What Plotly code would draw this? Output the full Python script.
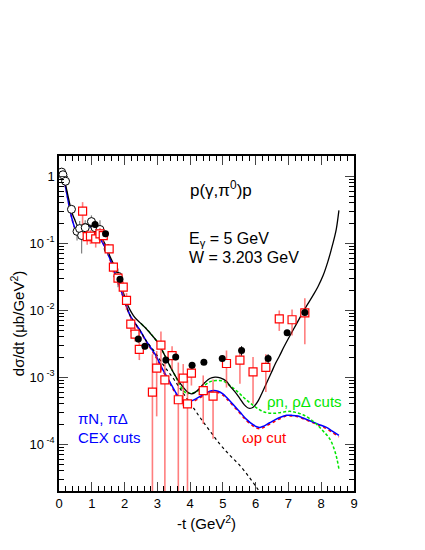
import plotly.graph_objects as go

FONT = 'Liberation Sans, Arial, sans-serif'

# model curves, -t in GeV^2 and log10 of dsigma/dt
black_t = [0.05, 0.08, 0.12, 0.18, 0.26, 0.34, 0.42, 0.49, 0.55, 0.62, 0.70, 0.79, 0.87, 0.94,
           1.05, 1.15, 1.25, 1.35, 1.45, 1.55, 1.66, 1.76, 1.86, 1.96, 2.06, 2.17, 2.27, 2.37,
           2.50, 2.67, 2.88, 2.98, 3.18, 3.35, 3.49, 3.65, 3.79, 3.92, 4.04, 4.17, 4.30, 4.45,
           4.60, 4.76, 4.92, 5.11, 5.21, 5.37, 5.52, 5.65, 5.77, 5.88, 5.98, 6.08, 6.18, 6.33,
           6.48, 6.60, 6.73, 6.86, 6.99, 7.25, 7.50, 7.75, 7.90, 8.06, 8.20, 8.31, 8.40, 8.46, 8.54]
black_log = [0.05, 0.03, 0.0, -0.09, -0.26, -0.44, -0.58, -0.66, -0.73, -0.75, -0.73, -0.71, -0.72, -0.74,
             -0.79, -0.84, -0.89, -0.96, -1.06, -1.19, -1.31, -1.43, -1.58, -1.73, -1.88, -2.00, -2.08, -2.14,
             -2.20, -2.28, -2.40, -2.46, -2.63, -2.80, -2.93, -3.06, -3.15, -3.22, -3.25, -3.22, -3.16, -3.08,
             -3.02, -3.00, -3.01, -3.06, -3.13, -3.22, -3.32, -3.41, -3.46, -3.46, -3.42, -3.35, -3.25, -3.09,
             -2.93, -2.80, -2.68, -2.55, -2.43, -2.20, -1.98, -1.78, -1.65, -1.48, -1.28, -1.09, -0.92, -0.79, -0.51]

blue_t = [0.05, 0.08, 0.12, 0.18, 0.26, 0.34, 0.42, 0.49, 0.55, 0.62, 0.70, 0.79, 0.87, 0.94,
          1.05, 1.15, 1.25, 1.35, 1.45, 1.55, 1.66, 1.76, 1.86, 1.96, 2.06, 2.16, 2.30, 2.47,
          2.65, 2.88, 2.98, 3.18, 3.38, 3.55, 3.69, 3.80, 3.89, 4.00, 4.19, 4.40, 4.60, 4.72,
          4.85, 5.00, 5.11, 5.30, 5.52, 5.72, 5.92, 6.03, 6.13, 6.25, 6.43, 6.70, 6.94, 7.10,
          7.29, 7.45, 7.65, 7.90, 8.16, 8.35, 8.54]
blue_log = [0.04, 0.02, -0.02, -0.12, -0.32, -0.52, -0.68, -0.78, -0.81, -0.80, -0.76, -0.73, -0.73, -0.75,
            -0.80, -0.86, -0.93, -1.01, -1.11, -1.23, -1.38, -1.52, -1.66, -1.80, -1.94, -2.07, -2.18, -2.30,
            -2.45, -2.62, -2.70, -2.90, -3.07, -3.22, -3.32, -3.36, -3.37, -3.36, -3.32, -3.26, -3.21, -3.20,
            -3.21, -3.25, -3.30, -3.40, -3.52, -3.63, -3.71, -3.74, -3.75, -3.73, -3.68, -3.61, -3.57, -3.57,
            -3.58, -3.61, -3.65, -3.70, -3.75, -3.81, -3.87]
red_log = [0.04, 0.02, -0.02, -0.12, -0.32, -0.52, -0.68, -0.78, -0.81, -0.80, -0.76, -0.73, -0.73, -0.75,
           -0.80, -0.86, -0.93, -1.01, -1.11, -1.24, -1.39, -1.53, -1.67, -1.81, -1.95, -2.08, -2.19, -2.31,
           -2.46, -2.64, -2.72, -2.92, -3.09, -3.24, -3.34, -3.38, -3.39, -3.38, -3.34, -3.28, -3.23, -3.22,
           -3.23, -3.27, -3.32, -3.42, -3.54, -3.65, -3.73, -3.76, -3.77, -3.75, -3.70, -3.63, -3.58, -3.58,
           -3.59, -3.62, -3.66, -3.71, -3.77, -3.83, -3.89]

green_t = [2.50, 2.67, 2.88, 2.98, 3.18, 3.35, 3.49, 3.65, 3.79, 3.90, 4.00, 4.19, 4.40, 4.60,
           4.80, 5.01, 5.20, 5.41, 5.65, 5.92, 6.13, 6.33, 6.53, 6.73, 7.04, 7.25, 7.44, 7.65,
           7.85, 8.05, 8.26, 8.40, 8.48, 8.54]
green_log = [-2.20, -2.28, -2.40, -2.46, -2.63, -2.80, -2.93, -3.08, -3.20, -3.24, -3.24, -3.22, -3.14, -3.07,
             -3.05, -3.06, -3.12, -3.20, -3.31, -3.42, -3.49, -3.53, -3.54, -3.53, -3.51, -3.53, -3.56, -3.62,
             -3.70, -3.80, -3.92, -4.08, -4.22, -4.37]

regge_t = [1.96, 2.16, 2.47, 2.65, 2.93, 3.20, 3.49, 3.79, 4.05, 4.30, 4.60, 4.91, 5.20, 5.52, 5.80, 6.02, 6.12]
regge_log = [-1.80, -2.07, -2.30, -2.45, -2.63, -2.83, -3.02, -3.24, -3.42, -3.60, -3.80, -4.00, -4.16, -4.32, -4.49, -4.64, -4.71]

# data points
circ_t = [0.08, 0.12, 0.20, 0.38, 0.55, 0.63, 0.69, 0.80, 0.99, 1.10, 1.25, 1.50, 1.80]
circ_v = [1.15, 1.05, 0.84, 0.32, 0.15, 0.165, 0.13, 0.17, 0.21, 0.17, 0.16, 0.082, 0.032]
circ_e = [0.08, 0.08, 0.08, 0.05, 0.04, 0.05, 0.06, 0.05, 0.05, 0.05, 0.06, 0.015, 0.010]

dot_t = [1.10, 1.42, 1.86, 2.42, 2.62, 3.26, 3.56, 4.06, 4.42, 4.98, 5.57, 6.38, 6.96, 7.50]
dot_v = [0.19, 0.138, 0.029, 0.0037, 0.0029, 0.0018, 0.0020, 0.0015, 0.00167, 0.0019, 0.0025, 0.0019, 0.0046, 0.0092]
dot_e = [0.02, 0.015, 0.003, 0.0004, 0.0003, 0.0002, 0.0002, 0.00015, 0.00015, 0.0002, 0.0004, 0.0003, 0.0004, 0.0008]

sq_t = [0.72, 0.86, 0.96, 1.12, 1.25, 1.35, 1.53, 1.66, 1.80, 1.96, 2.06, 2.19, 2.32, 2.45,
        2.85, 2.98, 3.11, 3.23, 3.45, 3.64, 3.79, 3.92, 4.04, 4.40, 4.70, 5.11, 5.52, 5.92,
        6.31, 6.72, 7.11, 7.50]
sq_v = [0.30, 0.125, 0.127, 0.116, 0.138, 0.13, 0.082, 0.044, 0.030, 0.022, 0.014, 0.0062, 0.0044, 0.0026,
        0.0006, 0.00136, 0.0030, 0.00091, 0.0021, 0.00046, 0.00097, 0.0004, 0.00115, 0.00063, 0.00052, 0.0016, 0.0018, 0.0012,
        0.0014, 0.0074, 0.0072, 0.0091]
sq_e = [0.11, 0.03, 0.03, 0.03, 0.03, 0.03, 0.012, 0.008, 0.006, 0.005, 0.004, 0.0015, 0.001, 0.0008,
        0.0016, 0.0011, 0.0018, 0.001, 0.0008, 0.0012, 0.0006, 0.0005, 0.0004, 0.00043, 0.0004, 0.0009, 0.001, 0.0008,
        0.0008, 0.0025, 0.003, 0.006]

x_ticks = [0, 1, 2, 3, 4, 5, 6, 7, 8, 9]
y_ticks = [1e-4, 1e-3, 1e-2, 1e-1, 1]
y_labels = ['10<sup> -4</sup>', '10<sup> -3</sup>', '10<sup> -2</sup>', '10<sup> -1</sup>', '1']

fig = go.Figure()


def curve(x, ylog, color, dash, width=1.5):
    fig.add_trace(go.Scatter(
        x=x, y=[10 ** v for v in ylog], mode='lines',
        line=dict(color=color, width=width, dash=dash, shape='spline'),
        hoverinfo='skip', showlegend=False))


curve(blue_t, red_log, 'red', 'dot', 1.5)
curve(blue_t, blue_log, 'blue', 'solid', 1.5)
curve(green_t, green_log, 'rgb(0,230,0)', '3px,2px', 1.5)
curve(regge_t, regge_log, 'black', 'dot', 1.2)
curve(black_t, black_log, 'black', 'solid', 1.3)

fig.add_trace(go.Scatter(
    x=circ_t, y=circ_v, mode='markers',
    marker=dict(symbol='circle', size=8, color='white', line=dict(color='black', width=1)),
    error_y=dict(type='data', array=circ_e, color='gray', thickness=1.2, width=0),
    showlegend=False))
fig.add_trace(go.Scatter(
    x=sq_t, y=sq_v, mode='markers',
    marker=dict(symbol='square', size=8, color='white', line=dict(color='red', width=1.2)),
    error_y=dict(type='data', array=sq_e, color='rgba(255,40,40,0.6)', thickness=1.6, width=0),
    showlegend=False))
fig.add_trace(go.Scatter(
    x=dot_t, y=dot_v, mode='markers',
    marker=dict(symbol='circle', size=7, color='black'),
    error_y=dict(type='data', array=dot_e, color='black', thickness=1, width=0),
    showlegend=False))

# labels inside the frame
notes = [
    (3.93, -0.19, 'p(γ,π<sup>0</sup>)p', 'black', 17),
    (3.91, -0.95, 'E<sub>γ</sub> = 5 GeV', 'black', 16),
    (3.91, -1.21, 'W = 3.203 GeV', 'black', 16),
    (6.28, -3.37, 'ρn, ρΔ cuts', 'rgb(0,230,0)', 15),
    (5.52, -3.90, 'ωp cut', 'red', 15),
    (0.52, -3.62, 'πN, πΔ', 'blue', 15),
    (0.52, -3.90, 'CEX cuts', 'blue', 15),
]
for x, y, txt, col, sz in notes:
    fig.add_annotation(x=x, y=y, text=txt, showarrow=False, xanchor='left', yanchor='middle',
                       font=dict(family=FONT, size=sz, color=col))

# page body adds 8px, so the figure is a bit smaller than the window
fig.update_layout(
    width=409, height=534,
    margin=dict(l=51, r=63, t=148, b=51),
    plot_bgcolor='white', paper_bgcolor='white',
    font=dict(family=FONT, size=13, color='black'),
    showlegend=False,
    xaxis=dict(
        range=[0, 9], tickvals=x_ticks, ticks='inside', ticklen=9, tickwidth=1,
        minor=dict(ticks='inside', ticklen=5, dtick=0.2, tickwidth=1, tickcolor='black'),
        showline=True, linecolor='black', linewidth=1.5, mirror='allticks',
        showgrid=False, zeroline=False, tickfont=dict(size=13), automargin=False,
        title=dict(text='-t (GeV<sup>2</sup>)', font=dict(size=15), standoff=8),
    ),
    yaxis=dict(
        type='log', range=[-4.699, 0.301], tickvals=y_ticks, ticktext=y_labels,
        ticks='inside', ticklen=9, tickwidth=1,
        minor=dict(ticks='inside', ticklen=5, tickwidth=1, tickcolor='black',
                   tickvals=[m * 10 ** e for e in range(-5, 1) for m in range(2, 10)]),
        showline=True, linecolor='black', linewidth=1.5, mirror='allticks',
        showgrid=False, zeroline=False, tickfont=dict(size=13), automargin=False,
        title=dict(text='dσ/dt (μb/GeV<sup>2</sup>)', font=dict(size=15), standoff=8),
    ),
)

fig.write_html("out.html")
